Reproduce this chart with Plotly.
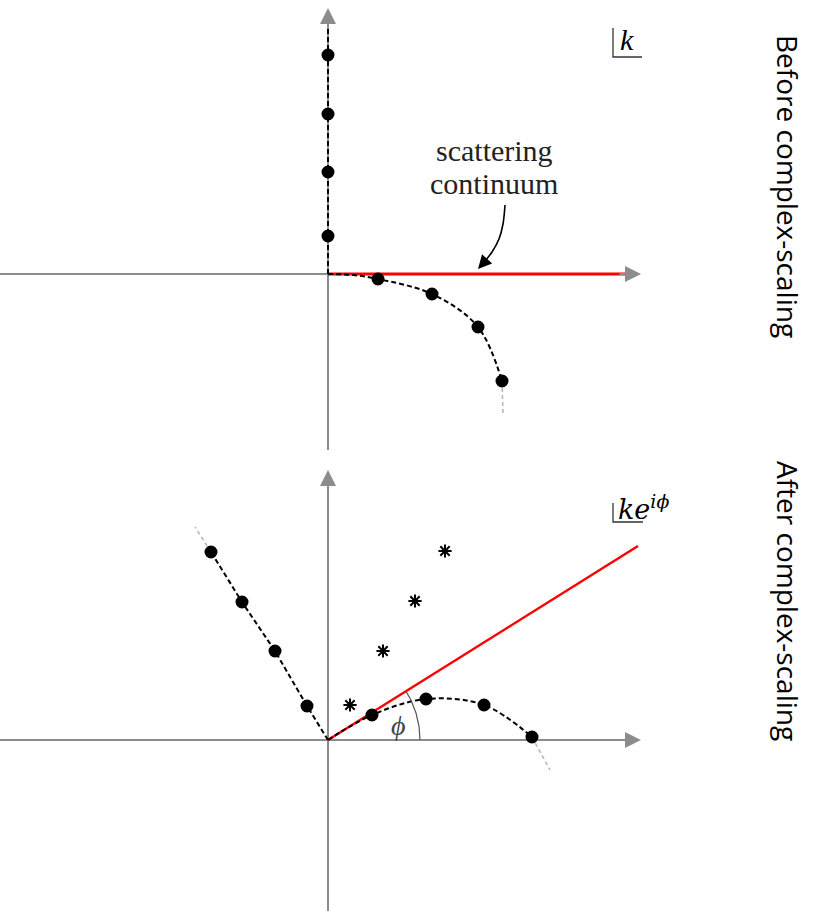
import numpy as np
import plotly.graph_objects as go

# ---------------- data (units: pixels relative to each panel's origin) -------------
# Top panel: before complex scaling
bound_top_y = [219, 160, 102, 38]
res_top_x = [50, 104, 150, 174]
res_top_y = [-5, -20, -53, -107]
res_top_tail_x = [174, 175]
res_top_tail_y = [-107, -141]
continuum_top_end = 304

# Bottom panel: after complex scaling
bound_bot_x = [-117, -86, -53, -21]
bound_bot_y = [188, 138, 89, 34]
bound_bot_tail = (-133, 213)
star_x = [22, 55, 87, 117]
star_y = [35, 89, 139, 189]
res_bot_x = [44, 98, 156, 204]
res_bot_y = [25, 41, 35, 3]
res_bot_tail = (222, -30)
continuum_bot_end = (310, 194)
phi_radius = 92

GRAY = "#8c8c8c"
TAIL = "#b5b5b5"
fig = go.Figure()

def line(x, y, ax, color="black", width=2, dash=None, shape="linear"):
    fig.add_trace(go.Scatter(x=x, y=y, mode="lines", xaxis=ax[0], yaxis=ax[1],
                             line=dict(color=color, width=width, dash=dash, shape=shape),
                             hoverinfo="skip", showlegend=False))

def dots(x, y, ax, symbol="circle", size=11):
    fig.add_trace(go.Scatter(x=x, y=y, mode="markers", xaxis=ax[0], yaxis=ax[1],
                             marker=dict(color="black", size=size, symbol=symbol,
                                         line=dict(color="black", width=2)),
                             hoverinfo="skip", showlegend=False))

T = ("x", "y")
B = ("x2", "y2")
DASH = "5px,3px"

# ---- top panel axes
line([-328, 300], [0, 0], T, GRAY, 2)
line([0, 0], [-176, 255], T, GRAY, 2)
# continuum
line([0, continuum_top_end], [0, 0], T, "red", 3)
# bound states dashed line
line([0, 0], [0, 258], T, "black", 2, DASH)
dots([0] * len(bound_top_y), bound_top_y, T)
# resonance curve
line([0, 25] + res_top_x, [0, -1] + res_top_y, T, "black", 2, DASH, "spline")
line(res_top_tail_x, res_top_tail_y, T, TAIL, 1.5, "4px,3px")
dots(res_top_x, res_top_y, T)
# curved arrow for "scattering continuum"
line([177, 175, 171, 164, 157], [69, 50, 35, 22, 13], T, "black", 1.6, None, "spline")

# ---- bottom panel axes
line([-328, 300], [0, 0], B, GRAY, 2)
line([0, 0], [-171, 258], B, GRAY, 2)
line([0, continuum_bot_end[0]], [0, continuum_bot_end[1]], B, "red", 2.5)
line([0] + bound_bot_x[::-1], [0] + bound_bot_y[::-1], B, "black", 2, DASH)
line([bound_bot_x[0], bound_bot_tail[0]], [bound_bot_y[0], bound_bot_tail[1]], B, TAIL, 1.5, "4px,3px")
dots(bound_bot_x, bound_bot_y, B)
line([0] + res_bot_x, [0] + res_bot_y, B, "black", 2, DASH, "spline")
line([res_bot_x[-1], res_bot_tail[0]], [res_bot_y[-1], res_bot_tail[1]], B, TAIL, 1.5, "4px,3px")
dots(res_bot_x, res_bot_y, B)
dots(star_x, star_y, B, "asterisk-open", 11)
phi = np.arctan2(continuum_bot_end[1], continuum_bot_end[0])
t = np.linspace(0, phi, 30)
line(phi_radius * np.cos(t), phi_radius * np.sin(t), B, "#555555", 1.2)

ann = []
def arrow(x, y, ax_, ay_, axes, color=GRAY, width=2, size=1.6):
    ann.append(dict(x=x, y=y, ax=ax_, ay=ay_, xref=axes[0], yref=axes[1],
                    axref=axes[0], ayref=axes[1], text="", showarrow=True,
                    arrowhead=2, arrowsize=size, arrowwidth=width, arrowcolor=color))

arrow(313, 0, 290, 0, T)
arrow(0, 266, 0, 245, T)
arrow(313, 0, 290, 0, B)
arrow(0, 270, 0, 249, B)
arrow(150, 5, 159, 15, T, "black", 1.6, 1.7)

def text(s, x, y, axes, size, family, color="black", angle=0, xanchor="center"):
    ann.append(dict(x=x, y=y, xref=axes[0], yref=axes[1], text=s, showarrow=False,
                    font=dict(size=size, family=family, color=color), textangle=angle,
                    xanchor=xanchor, yanchor="middle"))

SERIF = "Liberation Serif"
text("scattering", 166, 124, T, 30, SERIF, "#222")
text("continuum", 166, 91, T, 30, SERIF, "#222")
text("<i>k</i>", 299, 235, T, 30, SERIF)
text("<i>ke</i><sup><i>iϕ</i></sup>", 288, 232, B, 27, "DejaVu Serif", xanchor="left")
text("<i>ϕ</i>", 70, 15, B, 28, SERIF, "#444")
text("Before complex-scaling", 460, 88, T, 28, "Open Sans", angle=90)
text("After complex-scaling", 460, 139, B, 28, "Open Sans", angle=90)

# L-shaped corners of the plane labels
line([285, 285, 314], [246, 217, 217], T, "#333333", 1.3)
line([285, 285, 315], [237, 218, 218], B, "#333333", 1.3)

H = 911
top_h = 455
ax_common = dict(visible=False, showgrid=False, zeroline=False, fixedrange=True)
fig.update_layout(
    width=818, height=911, margin=dict(l=0, r=0, t=0, b=0),
    paper_bgcolor="white", plot_bgcolor="white", showlegend=False,
    xaxis=dict(domain=[0, 1], range=[-328, 490], anchor="y", **ax_common),
    yaxis=dict(domain=[(H - top_h) / H, 1], range=[274 - top_h, 274], anchor="x", **ax_common),
    xaxis2=dict(domain=[0, 1], range=[-328, 490], anchor="y2", **ax_common),
    yaxis2=dict(domain=[0, (H - top_h) / H], range=[740 - H, 740 - top_h], anchor="x2", **ax_common),
    annotations=ann,
)
fig.write_html("out.html")
